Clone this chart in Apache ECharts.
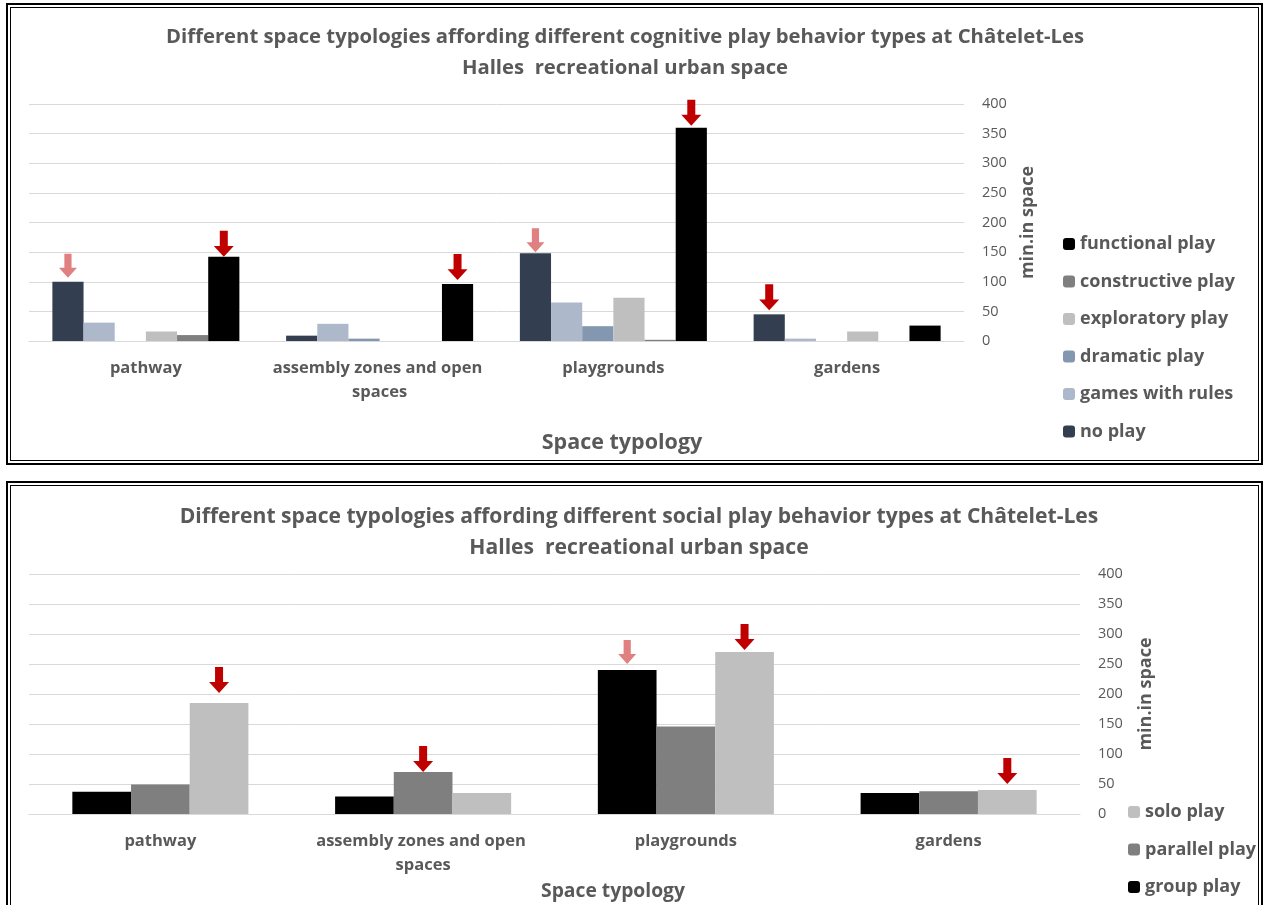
<!DOCTYPE html>
<html>
<head>
<meta charset="utf-8">
<script src="https://cdn.jsdelivr.net/npm/echarts@6/dist/echarts.min.js"></script>
<style>
  html, body { margin: 0; padding: 0; background: #fff; }
  .frame { position: absolute; border: 2px solid #000; padding: 2px; box-sizing: border-box; }
  .frame div { width: 100%; height: 100%; border: 1px solid #000; box-sizing: border-box; }
  #chart { position: absolute; left: 0; top: 0; width: 1264px; height: 905px; }
</style>
</head>
<body>
<div class="frame" style="left:6px; top:3px; width:1257px; height:462px;"><div></div></div>
<div class="frame" style="left:6px; top:481px; width:1257px; height:440px;"><div></div></div>
<div id="chart"></div>
<script>
// categories
const spaces = ['pathway', 'assembly zones and open spaces', 'playgrounds', 'gardens'];
const yTicks = [0, 50, 100, 150, 200, 250, 300, 350, 400];

// cognitive play (top chart), minutes in space
const noPlay       = [100, 9, 148, 45];
const gamesRules   = [31, 29, 65, 4];
const dramatic     = [0, 4, 25, 0];
const exploratory  = [16, 0, 73, 16];
const constructive = [10, 0, 2, 0];
const functional   = [142, 96, 360, 26];

// social play (bottom chart)
const groupPlay    = [37, 29, 240, 35];
const parallelPlay = [49, 70, 146, 38];
const soloPlay     = [185, 35, 270, 40];

const grey = '#595959';
const font = 'Open Sans';
const red = '#C00000', pink = '#E08080';
const arrow = 'path://M30,0 L70,0 L70,58 L100,58 L50,100 L0,58 L30,58 Z';

// arrows marking highlighted bars: [category index, colour, gap above bar]
function arrows(values, marks) {
  return {
    label: { show: false },
    silent: true,
    data: marks.map(m => ({
      coord: [spaces[m[0]], values[m[0]]],
      symbol: arrow,
      symbolSize: m[1] === red ? [20, 26] : [18, 24],
      symbolOffset: [0, (m[1] === red ? -13 : -12) - (m[2] || 0)],
      itemStyle: { color: m[1] }
    }))
  };
}

function bar(name, values, color, xi, marks) {
  const s = {
    name: name, type: 'bar', xAxisIndex: xi, yAxisIndex: xi,
    data: values, itemStyle: { color: color }, barGap: 0,
    barCategoryGap: xi === 0 ? '20%' : '33%'
  };
  if (marks) s.markPoint = arrows(values, marks);
  return s;
}

const catAxis = (gi) => ({
  type: 'category', gridIndex: gi, data: spaces,
  axisLine: { lineStyle: { color: '#D9D9D9' } },
  axisTick: { show: false },
  axisLabel: {
    interval: 0, color: grey, fontFamily: font, fontWeight: 'bold', fontSize: 16.5,
    margin: 15, width: 235, overflow: 'break', lineHeight: 24
  }
});

const valAxis = (gi, gap) => ({
  type: 'value', gridIndex: gi, position: 'right', min: 0, max: 400, interval: 50,
  name: 'min.in space', nameLocation: 'middle', nameRotate: 90, nameGap: gap,
  nameTextStyle: { color: grey, fontFamily: font, fontWeight: 'bold', fontSize: 18 },
  splitLine: { lineStyle: { color: '#D9D9D9' } },
  axisLine: { show: false }, axisTick: { show: false },
  axisLabel: { color: grey, fontFamily: font, fontSize: 14.5, margin: 18 }
});

const titleText = (kind) => 'Different space typologies affording different ' + kind +
  ' play behavior types at Châtelet-Les\nHalles  recreational urban space';

const titleStyle = (size) => ({ color: grey, fontFamily: font, fontWeight: 'bold', fontSize: size, lineHeight: 31 });
const axisTitleStyle = (size) => ({ color: grey, fontFamily: font, fontWeight: 'bold', fontSize: size });
const legendText = { color: grey, fontFamily: font, fontWeight: 'bold', fontSize: 18 };

const chart = echarts.init(document.getElementById('chart'));
chart.setOption({
  animation: false,
  textStyle: { fontFamily: font },
  title: [
    { text: titleText('cognitive'), left: 620, top: 17, textAlign: 'center', textStyle: titleStyle(20.3) },
    { text: 'Space typology', left: 617, top: 427, textAlign: 'center', textStyle: axisTitleStyle(21.5) },
    { text: titleText('social'), left: 634, top: 496, textAlign: 'center', textStyle: titleStyle(21.1) },
    { text: 'Space typology', left: 608, top: 877, textAlign: 'center', textStyle: axisTitleStyle(19.3) }
  ],
  legend: [
    { data: ['functional play', 'constructive play', 'exploratory play', 'dramatic play', 'games with rules', 'no play'],
      orient: 'vertical', left: 1058, top: 230, itemWidth: 12, itemHeight: 12, itemGap: 19.5,
      textStyle: legendText },
    { data: ['solo play', 'parallel play', 'group play'],
      orient: 'vertical', left: 1123, top: 798, itemWidth: 12, itemHeight: 12, itemGap: 19.5,
      textStyle: legendText }
  ],
  grid: [
    { left: 29, top: 104, width: 935, height: 237 },
    { left: 29, top: 574, width: 1051, height: 240 }
  ],
  xAxis: [catAxis(0), catAxis(1)],
  yAxis: [valAxis(0, 55), valAxis(1, 57)],
  series: [
    bar('no play', noPlay, '#333F50', 0, [[0, pink, 4], [2, pink, 1], [3, red, 4]]),
    bar('games with rules', gamesRules, '#ADB9CA', 0),
    bar('dramatic play', dramatic, '#8497B0', 0),
    bar('exploratory play', exploratory, '#BFBFBF', 0),
    bar('constructive play', constructive, '#7F7F7F', 0),
    bar('functional play', functional, '#000000', 0, [[0, red, 0], [1, red, 4], [2, red, 2]]),
    bar('group play', groupPlay, '#000000', 1, [[2, pink, 6]]),
    bar('parallel play', parallelPlay, '#7F7F7F', 1, [[1, red, 0]]),
    bar('solo play', soloPlay, '#BFBFBF', 1, [[0, red, 10], [2, red, 2], [3, red, 6]])
  ]
});
</script>
</body>
</html>
